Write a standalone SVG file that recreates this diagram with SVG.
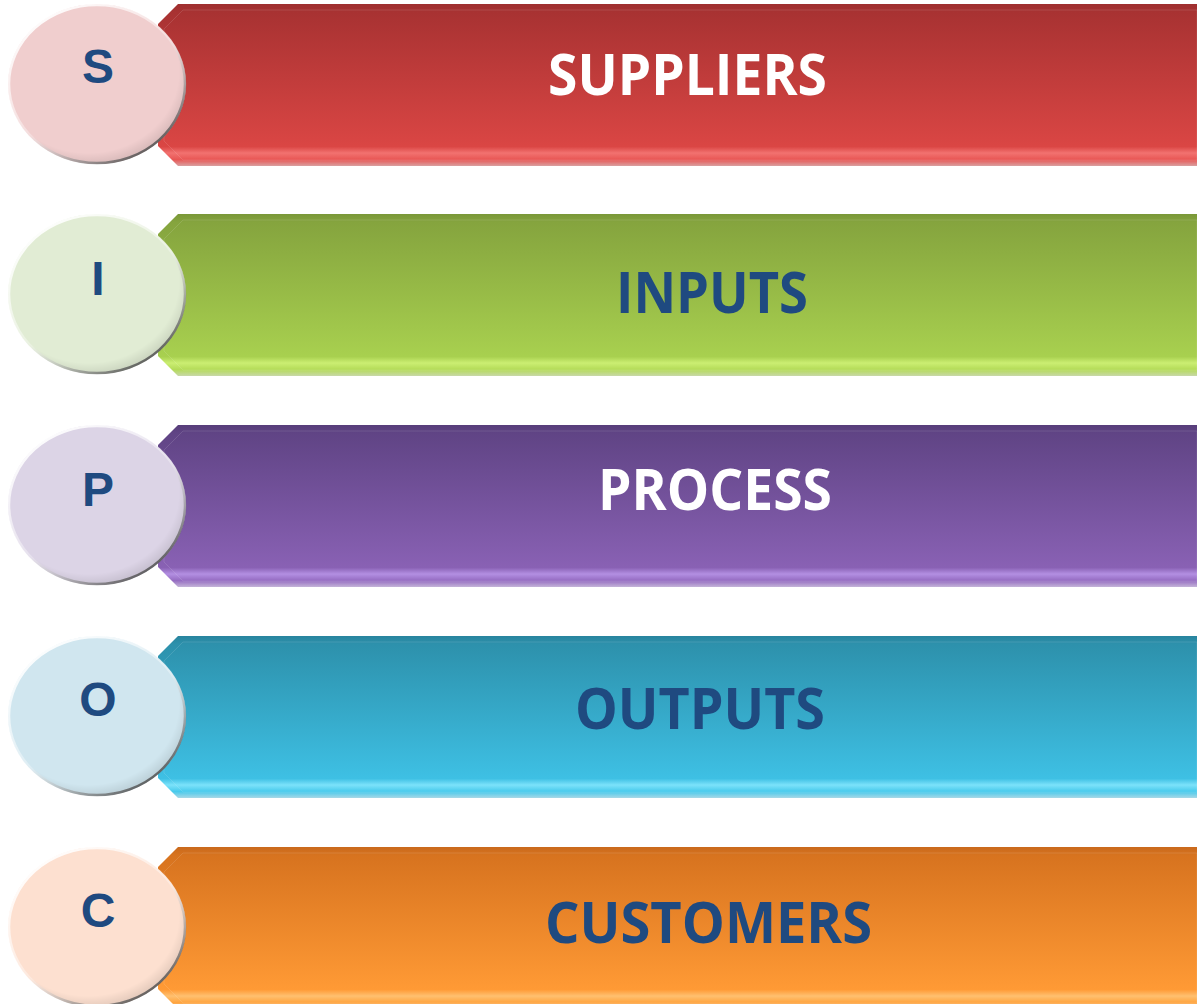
<svg xmlns="http://www.w3.org/2000/svg" width="1197" height="1004" viewBox="0 0 1197 1004">
<defs>
  <linearGradient id="gRed" x1="0" y1="0" x2="0" y2="1">
    <stop offset="0" stop-color="#9E2F2F"/><stop offset="0.05" stop-color="#A83232"/>
    <stop offset="0.88" stop-color="#DA4644"/><stop offset="0.92" stop-color="#F27270"/>
    <stop offset="0.96" stop-color="#E85654"/><stop offset="1" stop-color="#D9A0A0"/>
  </linearGradient>
  <linearGradient id="gGreen" x1="0" y1="0" x2="0" y2="1">
    <stop offset="0" stop-color="#7A9838"/><stop offset="0.05" stop-color="#85A43E"/>
    <stop offset="0.88" stop-color="#A8D04F"/><stop offset="0.92" stop-color="#CBEE72"/>
    <stop offset="0.96" stop-color="#B4DB58"/><stop offset="1" stop-color="#C8D8A8"/>
  </linearGradient>
  <linearGradient id="gPurple" x1="0" y1="0" x2="0" y2="1">
    <stop offset="0" stop-color="#573D7A"/><stop offset="0.05" stop-color="#604485"/>
    <stop offset="0.88" stop-color="#8961B4"/><stop offset="0.92" stop-color="#B38FE2"/>
    <stop offset="0.96" stop-color="#956CC2"/><stop offset="1" stop-color="#C4B4D8"/>
  </linearGradient>
  <linearGradient id="gBlue" x1="0" y1="0" x2="0" y2="1">
    <stop offset="0" stop-color="#28849E"/><stop offset="0.05" stop-color="#2D91AC"/>
    <stop offset="0.88" stop-color="#3EC0E4"/><stop offset="0.92" stop-color="#7CE2FA"/>
    <stop offset="0.96" stop-color="#48CAEC"/><stop offset="1" stop-color="#A8D8E6"/>
  </linearGradient>
  <linearGradient id="gOrange" x1="0" y1="0" x2="0" y2="1">
    <stop offset="0" stop-color="#C9691C"/><stop offset="0.05" stop-color="#D7731F"/>
    <stop offset="0.88" stop-color="#FF9A35"/><stop offset="0.92" stop-color="#FFC070"/>
    <stop offset="0.96" stop-color="#FFA540"/><stop offset="1" stop-color="#F0C8A0"/>
  </linearGradient>
  <linearGradient id="rim" x1="0.2" y1="0.1" x2="0.85" y2="0.95">
    <stop offset="0" stop-color="#FFFFFF" stop-opacity="0.9"/>
    <stop offset="0.5" stop-color="#FFFFFF" stop-opacity="0.3"/>
    <stop offset="0.75" stop-color="#8A8A8A" stop-opacity="0.6"/>
    <stop offset="1" stop-color="#3A3A3A" stop-opacity="0.9"/>
  </linearGradient>
  <radialGradient id="shade" cx="0.45" cy="0.42" r="0.6">
    <stop offset="0.85" stop-color="#000" stop-opacity="0"/>
    <stop offset="1" stop-color="#000" stop-opacity="0.12"/>
  </radialGradient>
  <polygon id="banner" points="178,0 1197,0 1197,162 178,162 158,142 158,20"/>
  <polygon id="bevel" points="183,6 1197,6 1197,156 183,156 164,137 164,25" fill="none" stroke="#FFFFFF" stroke-opacity="0.12" stroke-width="1"/>
</defs>
<style>
  .title { font-family: "Open Sans", "Liberation Sans", sans-serif; font-weight: 700; font-size: 57px; }
  .letter { font-family: "Liberation Sans", Arial, sans-serif; font-weight: 700; font-size: 48px; fill: #1F4A80; text-anchor: middle; }
  .white { fill: #FFFFFF; }
  .blue { fill: #1F4A80; }
  .rim { fill: none; stroke: url(#rim); stroke-width: 2.5; }
</style>

<g id="connectors"></g>

<g id="node-suppliers" transform="translate(0,4)">
  <use href="#banner" fill="url(#gRed)"/>
  <use href="#bevel"/>
  <ellipse cx="97" cy="80" rx="89" ry="80" fill="#F0CECE"/>
  <ellipse cx="97" cy="80" rx="89" ry="80" fill="url(#shade)"/>
  <ellipse class="rim" cx="97" cy="80" rx="88" ry="79"/>
  <text class="letter" x="98" y="79">S</text>
  <text class="title white" x="548" y="91" textLength="279" lengthAdjust="spacingAndGlyphs">SUPPLIERS</text>
</g>

<g id="node-inputs" transform="translate(0,214)">
  <use href="#banner" fill="url(#gGreen)"/>
  <use href="#bevel"/>
  <ellipse cx="97" cy="80" rx="89" ry="80" fill="#E1ECD4"/>
  <ellipse cx="97" cy="80" rx="89" ry="80" fill="url(#shade)"/>
  <ellipse class="rim" cx="97" cy="80" rx="88" ry="79"/>
  <text class="letter" x="98" y="81">I</text>
  <text class="title blue" x="616" y="99" textLength="192" lengthAdjust="spacingAndGlyphs">INPUTS</text>
</g>

<g id="node-process" transform="translate(0,425)">
  <use href="#banner" fill="url(#gPurple)"/>
  <use href="#bevel"/>
  <ellipse cx="97" cy="80" rx="89" ry="80" fill="#DCD4E6"/>
  <ellipse cx="97" cy="80" rx="89" ry="80" fill="url(#shade)"/>
  <ellipse class="rim" cx="97" cy="80" rx="88" ry="79"/>
  <text class="letter" x="98" y="81">P</text>
  <text class="title white" x="598" y="85" textLength="234" lengthAdjust="spacingAndGlyphs">PROCESS</text>
</g>

<g id="node-outputs" transform="translate(0,636)">
  <use href="#banner" fill="url(#gBlue)"/>
  <use href="#bevel"/>
  <ellipse cx="97" cy="80" rx="89" ry="80" fill="#D0E6EF"/>
  <ellipse cx="97" cy="80" rx="89" ry="80" fill="url(#shade)"/>
  <ellipse class="rim" cx="97" cy="80" rx="88" ry="79"/>
  <text class="letter" x="98" y="80">O</text>
  <text class="title blue" x="575" y="93" textLength="250" lengthAdjust="spacingAndGlyphs">OUTPUTS</text>
</g>

<g id="node-customers" transform="translate(0,847)">
  <use href="#banner" fill="url(#gOrange)"/>
  <use href="#bevel"/>
  <ellipse cx="97" cy="80" rx="89" ry="80" fill="#FDE0D0"/>
  <ellipse cx="97" cy="80" rx="89" ry="80" fill="url(#shade)"/>
  <ellipse class="rim" cx="97" cy="80" rx="88" ry="79"/>
  <text class="letter" x="98" y="80">C</text>
  <text class="title blue" x="545" y="96" textLength="327" lengthAdjust="spacingAndGlyphs">CUSTOMERS</text>
</g>
</svg>
